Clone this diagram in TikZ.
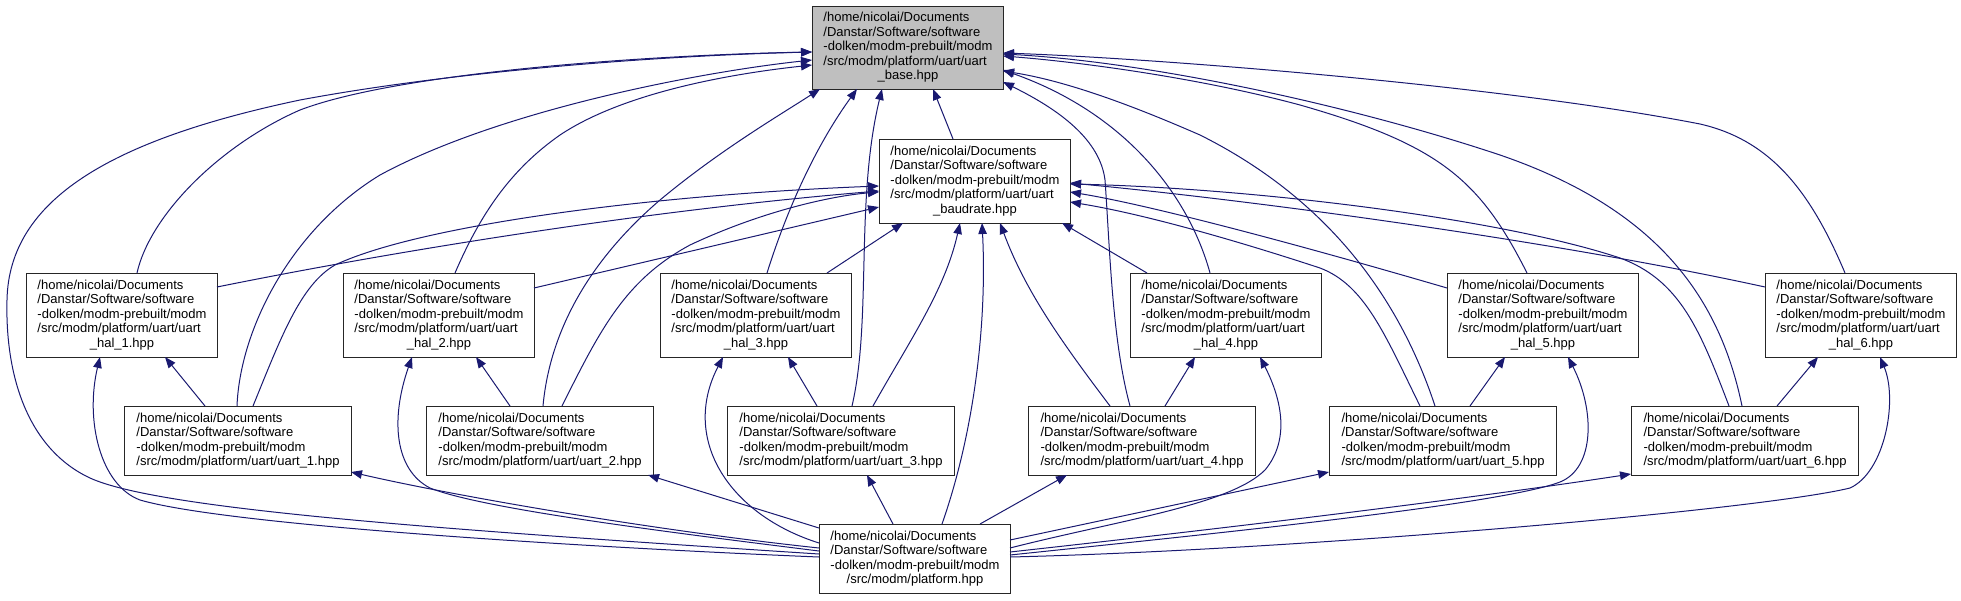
\documentclass[tikz,border=0pt]{standalone}
\usepackage{fontspec}
\setmainfont{Liberation Sans}
\usetikzlibrary{arrows.meta}
\definecolor{edgeblue}{RGB}{25,25,112}
\definecolor{rootgrey}{RGB}{191,191,191}
\newcommand\lbfont{\fontsize{13}{14.5}\selectfont}
\newcommand\hdr{/home/nicolai/Documents\\ /Danstar/Software/software\\ -dolken/modm-prebuilt/modm\\}
\newcommand\lbl[1]{\begin{tabular}{@{}l@{}}#1\end{tabular}}
\newcommand\lastc[1]{\multicolumn{1}{@{}c@{}}{#1}}
\newcommand\hallbl[1]{\lbl{\hdr /src/modm/platform/uart/uart\\ \lastc{\_hal\_#1.hpp}}}
\newcommand\uartlbl[1]{\lbl{\hdr /src/modm/platform/uart/uart\_#1.hpp}}
\tikzset{
  box/.style={draw=black!85, line width=1pt, fill=white, inner sep=0pt,
    minimum width=191pt, minimum height=84pt, font=\lbfont, anchor=north west},
  ubox/.style={box, minimum width=227pt, minimum height=69pt},
  pbox/.style={box, minimum height=69pt},
  rootbox/.style={box, fill=rootgrey, minimum height=83pt},
  e/.style={draw=edgeblue, line width=1pt, -{Triangle[length=11pt,width=8.5pt]}},
}
\begin{document}
\begin{tikzpicture}[x=1pt,y=-1pt]
\useasboundingbox (0,0) rectangle (1961,600);
% nodes
\node[rootbox] (top) at (812,6) {\lbl{\hdr /src/modm/platform/uart/uart\\ \lastc{\_base.hpp}}};
\node[box] (baud) at (879,139) {\lbl{\hdr /src/modm/platform/uart/uart\\ \lastc{\_baudrate.hpp}}};
\node[box] (hal1) at (26,273) {\hallbl{1}};
\node[box] (hal2) at (343,273) {\hallbl{2}};
\node[box] (hal3) at (660,273) {\hallbl{3}};
\node[box] (hal4) at (1130,273) {\hallbl{4}};
\node[box] (hal5) at (1447,273) {\hallbl{5}};
\node[box] (hal6) at (1765,273) {\hallbl{6}};
\node[ubox] (u1) at (124,406) {\uartlbl{1}};
\node[ubox] (u2) at (426,406) {\uartlbl{2}};
\node[ubox] (u3) at (727,406) {\uartlbl{3}};
\node[ubox] (u4) at (1028,406) {\uartlbl{4}};
\node[ubox] (u5) at (1329,406) {\uartlbl{5}};
\node[ubox] (u6) at (1631,406) {\uartlbl{6}};
\node[pbox] (plat) at (819,524) {\lbl{\hdr \lastc{/src/modm/platform.hpp}}};
% edges into uart_base
\draw[e] ([shift={(74,0)}]baud.north west) -- ([shift={(121,83)}]top.north west);
\draw[e] ([shift={(111,0)}]hal1.north west) .. controls (150,215) and (220,145) .. (300,110) .. controls (400,72) and (650,55) .. ([shift={(0,46)}]top.north west);
\draw[e] ([shift={(0,30)}]plat.north west) .. controls (450,530) and (160,510) .. (90,478) .. controls (30,450) and (5,380) .. (7,300) .. controls (9,200) and (110,140) .. (300,100) .. controls (450,72) and (650,56) .. ([shift={(0,46)}]top.north west);
\draw[e] ([shift={(113,0)}]u1.north west) .. controls (240,330) and (290,230) .. (380,175) .. controls (500,110) and (700,72) .. ([shift={(0,54)}]top.north west);
\draw[e] ([shift={(112,0)}]hal2.north west) .. controls (480,215) and (510,170) .. (560,135) .. controls (620,95) and (720,75) .. ([shift={(0,59)}]top.north west);
\draw[e] ([shift={(117,0)}]u2.north west) .. controls (550,330) and (590,260) .. (660,200) .. controls (720,150) and (780,115) .. ([shift={(8,83)}]top.north west);
\draw[e] ([shift={(107,0)}]hal3.north west) .. controls (790,200) and (820,140) .. ([shift={(45,83)}]top.north west);
\draw[e] ([shift={(125,0)}]u3.north west) .. controls (872,320) and (855,200) .. ([shift={(70,83)}]top.north west);
\draw[e] ([shift={(80,0)}]hal4.north west) .. controls (1190,200) and (1130,115) .. ([shift={(191,64)}]top.north west);
\draw[e] ([shift={(102,0)}]u4.north west) .. controls (1112,340) and (1110,250) .. (1105,180) .. controls (1100,140) and (1060,110) .. ([shift={(191,76)}]top.north west);
\draw[e] ([shift={(106,0)}]u5.north west) .. controls (1400,300) and (1330,200) .. (1200,135) .. controls (1120,100) and (1060,80) .. ([shift={(191,65)}]top.north west);
\draw[e] ([shift={(80,0)}]hal5.north west) .. controls (1480,180) and (1440,145) .. (1300,105) .. controls (1200,78) and (1080,62) .. ([shift={(191,50)}]top.north west);
\draw[e] ([shift={(111,0)}]u6.north west) .. controls (1720,300) and (1660,210) .. (1500,155) .. controls (1350,105) and (1150,62) .. ([shift={(191,48)}]top.north west);
\draw[e] ([shift={(80,0)}]hal6.north west) .. controls (1810,190) and (1770,140) .. (1700,124) .. controls (1500,85) and (1150,58) .. ([shift={(191,47)}]top.north west);
% edges into uart_baudrate
\draw[e] ([shift={(191,14)}]hal1.north west) .. controls (400,250) and (650,210) .. ([shift={(0,52)}]baud.north west);
\draw[e] ([shift={(129,0)}]u1.north west) .. controls (280,340) and (300,285) .. (335,265) .. controls (420,225) and (650,195) .. ([shift={(0,47)}]baud.north west);
\draw[e] ([shift={(191,15)}]hal2.north west) -- ([shift={(0,68)}]baud.north west);
\draw[e] ([shift={(136,0)}]u2.north west) .. controls (600,330) and (625,280) .. (690,245) .. controls (760,212) and (830,196) .. ([shift={(0,53)}]baud.north west);
\draw[e] ([shift={(167,0)}]hal3.north west) -- ([shift={(24,84)}]baud.north west);
\draw[e] ([shift={(146,0)}]u3.north west) .. controls (910,340) and (945,290) .. ([shift={(81,84)}]baud.north west);
\draw[e] ([shift={(123,0)}]plat.north west) .. controls (975,430) and (987,320) .. ([shift={(103,84)}]baud.north west);
\draw[e] ([shift={(82,0)}]u4.north west) .. controls (1060,340) and (1025,290) .. ([shift={(121,84)}]baud.north west);
\draw[e] ([shift={(17,0)}]hal4.north west) -- ([shift={(183,84)}]baud.north west);
\draw[e] ([shift={(91,0)}]u5.north west) .. controls (1385,335) and (1365,285) .. (1320,268) .. controls (1250,245) and (1150,215) .. ([shift={(191,63)}]baud.north west);
\draw[e] ([shift={(0,15)}]hal5.north west) .. controls (1300,245) and (1150,205) .. ([shift={(191,53)}]baud.north west);
\draw[e] ([shift={(0,14)}]hal6.north west) .. controls (1550,240) and (1250,200) .. ([shift={(191,44)}]baud.north west);
\draw[e] ([shift={(98,0)}]u6.north west) .. controls (1700,330) and (1680,280) .. (1620,258) .. controls (1500,218) and (1250,188) .. ([shift={(191,45)}]baud.north west);
% uart -> hal
\draw[e] ([shift={(81,0)}]u1.north west) -- ([shift={(139,84)}]hal1.north west);
\draw[e] ([shift={(84,0)}]u2.north west) -- ([shift={(133,84)}]hal2.north west);
\draw[e] ([shift={(90,0)}]u3.north west) -- ([shift={(128,84)}]hal3.north west);
\draw[e] ([shift={(137,0)}]u4.north west) -- ([shift={(65,84)}]hal4.north west);
\draw[e] ([shift={(141,0)}]u5.north west) -- ([shift={(58,84)}]hal5.north west);
\draw[e] ([shift={(146,0)}]u6.north west) -- ([shift={(53,84)}]hal6.north west);
% platform -> hal
\draw[e] ([shift={(0,33)}]plat.north west) .. controls (600,548) and (230,526) .. (140,500) .. controls (100,485) and (85,420) .. ([shift={(74,84)}]hal1.north west);
\draw[e] ([shift={(0,27)}]plat.north west) .. controls (650,530) and (480,508) .. (430,488) .. controls (395,470) and (390,420) .. ([shift={(69,84)}]hal2.north west);
\draw[e] ([shift={(0,19)}]plat.north west) .. controls (730,515) and (680,440) .. ([shift={(63,84)}]hal3.north west);
\draw[e] ([shift={(191,24)}]plat.north west) .. controls (1120,520) and (1230,505) .. (1265,470) .. controls (1290,440) and (1282,400) .. ([shift={(130,84)}]hal4.north west);
\draw[e] ([shift={(191,31)}]plat.north west) .. controls (1200,535) and (1500,505) .. (1560,482) .. controls (1595,468) and (1595,410) .. ([shift={(121,84)}]hal5.north west);
\draw[e] ([shift={(191,33)}]plat.north west) .. controls (1300,550) and (1760,510) .. (1850,488) .. controls (1885,472) and (1898,400) .. ([shift={(115,84)}]hal6.north west);
% platform -> uart
\draw[e] ([shift={(0,24)}]plat.north west) .. controls (650,530) and (450,495) .. ([shift={(227,66)}]u1.north west);
\draw[e] ([shift={(0,4)}]plat.north west) -- ([shift={(222,69)}]u2.north west);
\draw[e] ([shift={(74,0)}]plat.north west) -- ([shift={(140,69)}]u3.north west);
\draw[e] ([shift={(161,0)}]plat.north west) -- ([shift={(39,69)}]u4.north west);
\draw[e] ([shift={(191,16)}]plat.north west) -- ([shift={(0,66)}]u5.north west);
\draw[e] ([shift={(191,28)}]plat.north west) .. controls (1300,520) and (1500,494) .. ([shift={(0,68)}]u6.north west);
\end{tikzpicture}
\end{document}
